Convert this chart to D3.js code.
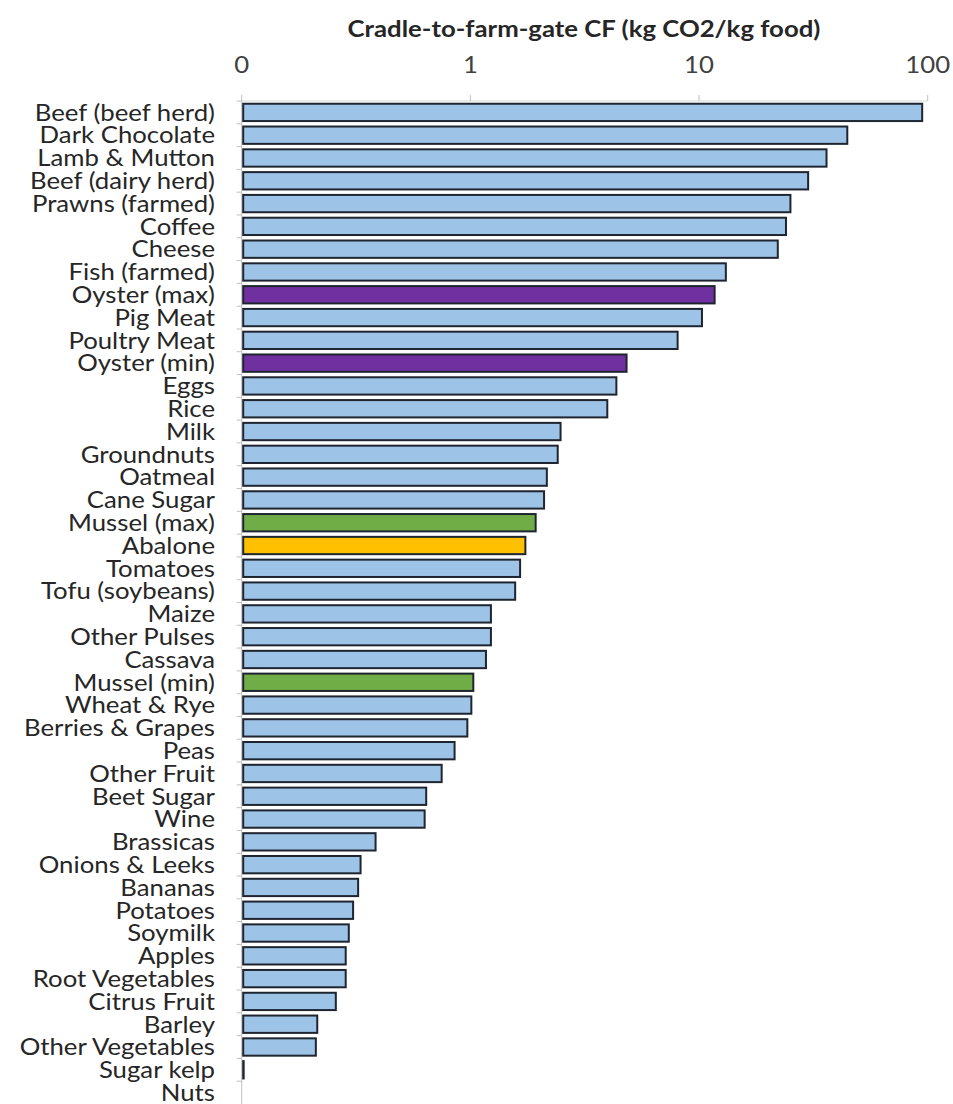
<!DOCTYPE html>
<html>
<head>
<meta charset="utf-8">
<script src="https://cdn.jsdelivr.net/npm/d3@7"></script>
<style>
  body { margin: 0; background: #fff; }
  text { font-family: Lato, "Open Sans", sans-serif; }
</style>
</head>
<body>
<script>
// cradle-to-farm-gate carbon footprint
var foods = ["Beef (beef herd)", "Dark Chocolate", "Lamb & Mutton", "Beef (dairy herd)",
  "Prawns (farmed)", "Coffee", "Cheese", "Fish (farmed)", "Oyster (max)", "Pig Meat",
  "Poultry Meat", "Oyster (min)", "Eggs", "Rice", "Milk", "Groundnuts", "Oatmeal",
  "Cane Sugar", "Mussel (max)", "Abalone", "Tomatoes", "Tofu (soybeans)", "Maize",
  "Other Pulses", "Cassava", "Mussel (min)", "Wheat & Rye", "Berries & Grapes", "Peas",
  "Other Fruit", "Beet Sugar", "Wine", "Brassicas", "Onions & Leeks", "Bananas",
  "Potatoes", "Soymilk", "Apples", "Root Vegetables", "Citrus Fruit", "Barley",
  "Other Vegetables", "Sugar kelp", "Nuts"];
var footprint = [94.6, 44.5, 36.1, 30.0, 25.1, 24.0, 22.1, 13.1, 11.7, 10.3,
  8.06, 4.82, 4.35, 3.97, 2.48, 2.41, 2.16, 2.10, 1.93, 1.74,
  1.65, 1.57, 1.23, 1.23, 1.17, 1.03, 1.01, 0.97, 0.853, 0.749,
  0.641, 0.631, 0.385, 0.331, 0.323, 0.307, 0.294, 0.285, 0.285, 0.258,
  0.214, 0.211, 0.102, null];
// seafood highlighted in other colours
var group = ["land", "land", "land", "land", "land", "land", "land", "land", "oyster", "land",
  "land", "oyster", "land", "land", "land", "land", "land", "land", "mussel", "abalone",
  "land", "land", "land", "land", "land", "mussel", "land", "land", "land", "land",
  "land", "land", "land", "land", "land", "land", "land", "land", "land", "land",
  "land", "land", "land", "land"];
var tickValues = [0.1, 1, 10, 100];
var tickLabels = ["0", "1", "10", "100"];

var width = 953, height = 1104;
var colors = {land: "#9dc3e6", oyster: "#7030a0", mussel: "#70ad47", abalone: "#ffc000"};
var stretch = 1.12; // the original font is narrower-looking but wider set, widen Lato a bit

var svg = d3.select("body").append("svg")
  .attr("width", width).attr("height", height);

var x = d3.scaleLog().domain([0.1, 100]).range([241.7, 927.7]);
var y = d3.scaleBand().domain(foods).range([101, 1104]).paddingInner(0.24).paddingOuter(0.12);

var rows = foods.map(function(f, i) {
  return {name: f, value: footprint[i], group: group[i]};
});

// top axis
svg.append("line")
  .attr("x1", x(0.1)).attr("x2", x(100))
  .attr("y1", 101).attr("y2", 101)
  .attr("stroke", "#d9d9d9").attr("stroke-width", 1);
svg.selectAll(".xtick").data(tickValues).enter().append("line")
  .attr("x1", function(d){ return x(d); }).attr("x2", function(d){ return x(d); })
  .attr("y1", 95).attr("y2", 101)
  .attr("stroke", "#bfbfbf");
svg.selectAll(".xlab").data(tickValues).enter().append("text")
  .attr("transform", function(d){ return "translate(" + x(d) + ",73) scale(" + stretch + ",1)"; })
  .attr("text-anchor", "middle")
  .attr("font-size", 23)
  .attr("fill", "#404040")
  .text(function(d, i){ return tickLabels[i]; });

svg.append("text")
  .attr("transform", "translate(584,37) scale(" + stretch + ",1)")
  .attr("text-anchor", "middle")
  .attr("font-size", 23).attr("font-weight", "bold")
  .attr("fill", "#262626")
  .text("Cradle-to-farm-gate CF (kg CO2/kg food)");

// left axis with ticks between categories
svg.append("line")
  .attr("x1", x(0.1)).attr("x2", x(0.1))
  .attr("y1", 101).attr("y2", 1104)
  .attr("stroke", "#bfbfbf");
svg.selectAll(".ytick").data(foods).enter().append("line")
  .attr("x1", x(0.1) - 5).attr("x2", x(0.1))
  .attr("y1", function(d){ return y(d) - y.step() * y.paddingInner() / 2; })
  .attr("y2", function(d){ return y(d) - y.step() * y.paddingInner() / 2; })
  .attr("stroke", "#bfbfbf");

// bars
svg.selectAll(".bar").data(rows.filter(function(d){ return d.value != null; }))
  .enter().append("rect")
  .attr("x", x(0.1) + 1.5)
  .attr("y", function(d){ return y(d.name); })
  .attr("width", function(d){ return Math.max(0, x(d.value) - x(0.1) - 1.5); })
  .attr("height", y.bandwidth())
  .attr("fill", function(d){ return colors[d.group]; })
  .attr("stroke", "#1e2530")
  .attr("stroke-width", 2);

// category labels
svg.selectAll(".ylab").data(foods).enter().append("text")
  .attr("transform", function(d){
    return "translate(215," + (y(d) + y.bandwidth() / 2) + ") scale(" + stretch + ",1)";
  })
  .attr("dy", "0.36em")
  .attr("text-anchor", "end")
  .attr("font-size", 23)
  .attr("fill", "#262626")
  .text(function(d){ return d; });
</script>
</body>
</html>
